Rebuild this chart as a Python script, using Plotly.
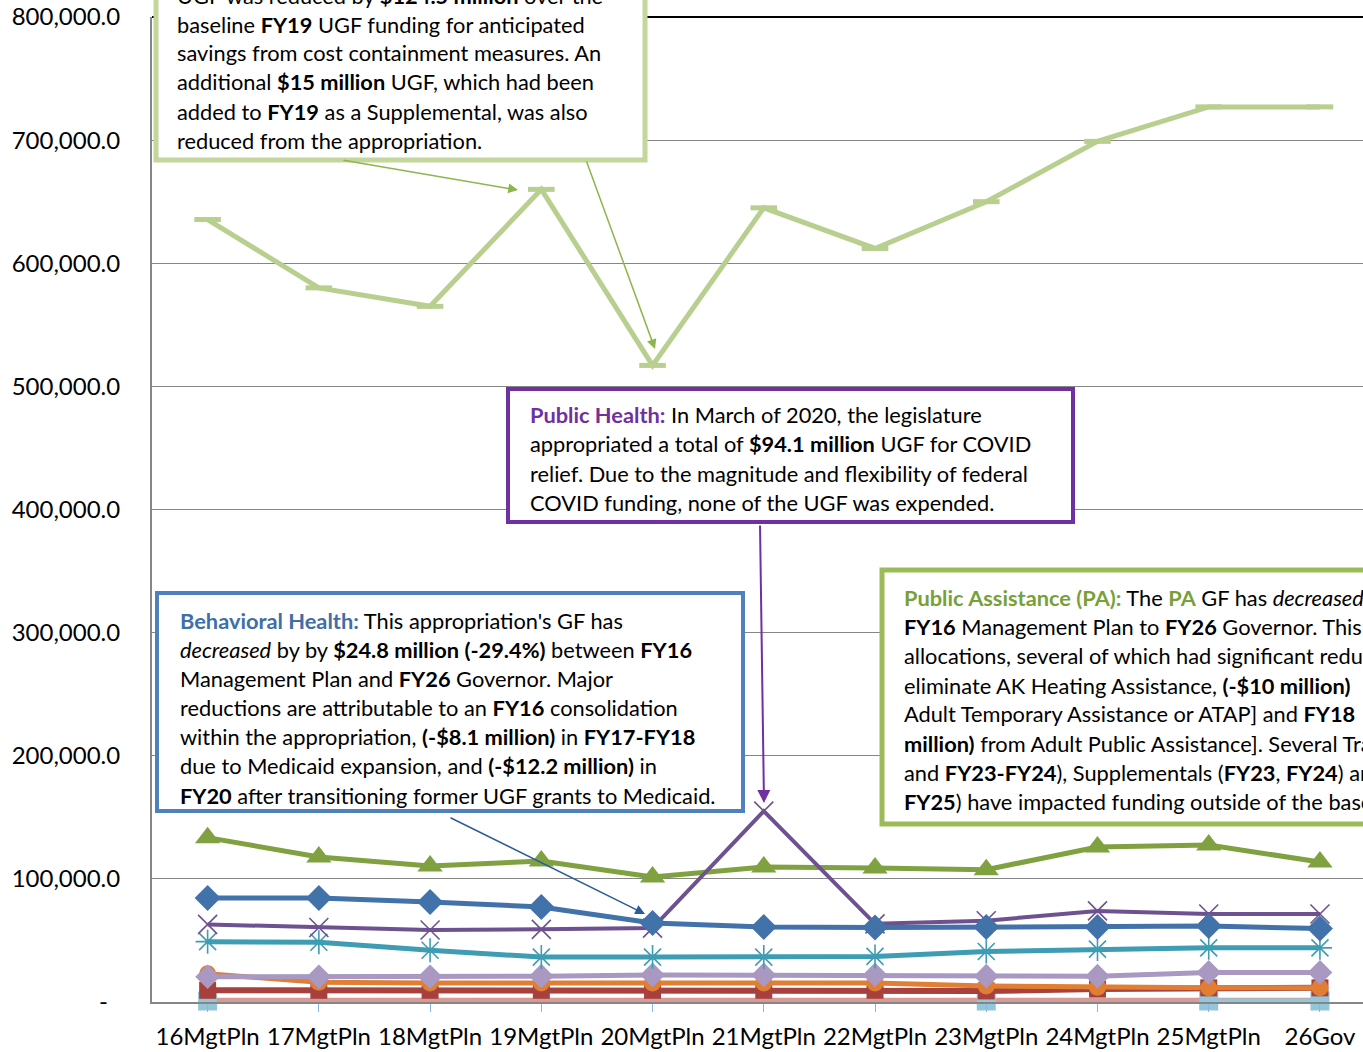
import plotly.graph_objects as go

# ---- data (UGF, thousands of dollars) ----
categories = ["16MgtPln", "17MgtPln", "18MgtPln", "19MgtPln", "20MgtPln", "21MgtPln",
              "22MgtPln", "23MgtPln", "24MgtPln", "25MgtPln", "26Gov"]

medicaid_services = [635500, 580000, 565000, 660000, 517000, 645000, 612000, 650000, 699000, 727000, 727000]
public_assistance = [133500, 117800, 110500, 114500, 101500, 109600, 108800, 107500, 125900, 127500, 113700]
behavioral_health = [84400, 84500, 81200, 77200, 64200, 61000, 60500, 61000, 61000, 61700, 59600]
public_health = [63000, 60500, 58500, 59000, 60000, 155000, 63500, 66000, 74000, 71500, 71500]
childrens_services = [49000, 48500, 42000, 36500, 36500, 36500, 37000, 41000, 43000, 44000, 44000]
senior_disabilities = [20500, 20500, 20500, 21000, 22000, 22000, 22000, 21000, 21000, 24000, 24000]
departmental_support = [23000, 16000, 15500, 15500, 15500, 15500, 15500, 13000, 12000, 11500, 11500]
health_care_services = [9500, 9500, 9500, 9500, 9500, 9500, 9500, 9000, 10500, 11500, 11500]
senior_benefits = [1500, 1500, 1500, 1500, 1500, 1500, 1500, 1500, 1500, 1500, 1500]
matching_grants = [800, None, None, None, None, None, None, 800, None, 800, 800]

y_tickvals = [0, 100000, 200000, 300000, 400000, 500000, 600000, 700000, 800000]
y_ticktext = ["-\u00a0\u00a0", "100,000.0", "200,000.0", "300,000.0", "400,000.0",
              "500,000.0", "600,000.0", "700,000.0", "800,000.0"]

# ---- canvas geometry (pixels) ----
W, H = 1363, 1052
L, T, B = 152, 17, 1002
PW, PH = W - L, B - T


def px(x):
    return (x - L) / PW


def py(y):
    return (B - y) / PH


FONT = "Lato"
NOTE_SIZE = 21.8
fig = go.Figure()


def add_series(values, color, width, symbol=None, size=0, mline=0, mcolor=None, name=""):
    mode = "lines+markers" if symbol else "lines"
    marker = dict(symbol=symbol, size=size, color=mcolor or color,
                  line=dict(width=mline, color=color)) if symbol else None
    fig.add_trace(go.Scatter(x=categories, y=values, mode=mode, name=name,
                             line=dict(color=color, width=width),
                             marker=marker, connectgaps=False, cliponaxis=False,
                             hoverinfo="skip"))


add_series(senior_benefits, "#D69A97", 5, name="Senior Benefits Payment Program")
add_series(matching_grants, "#93C6D9", 5, "square", 19, name="Community Initiative Matching Grants")
add_series(health_care_services, "#A8403D", 6, "square", 17, name="Health Care Services")
add_series(departmental_support, "#E07F33", 5, "circle", 17, name="Departmental Support Services")
add_series(senior_disabilities, "#A898C2", 5, "diamond", 19, name="Senior and Disabilities Services")
add_series(childrens_services, "#3E9CB3", 5, "asterisk-open", 20, 1.6, name="Children's Services")
add_series(public_assistance, "#7FA140", 5, "triangle-up", 22, name="Public Assistance")
add_series(public_health, "#6E5190", 4, "x-thin-open", 19, 1.6, name="Public Health")
add_series(behavioral_health, "#4272AA", 5, "diamond", 20, name="Behavioral Health")
add_series(medicaid_services, "#B8CF8F", 5, "line-ew-open", 19, 5, name="Medicaid Services")

shapes = []
annotations = []

# top border of the plot area
shapes.append(dict(type="line", xref="paper", yref="paper", x0=0, x1=1, y0=1, y1=1,
                   line=dict(color="#000000", width=2), layer="above"))


def text_box(x0, y0, x1, y1, border, color, text_x, lines, line_y):
    shapes.append(dict(type="rect", xref="paper", yref="paper",
                       x0=px(x0), x1=px(x1), y0=py(y1), y1=py(y0),
                       fillcolor="white", line=dict(color=color, width=border), layer="above"))
    for t, yy in zip(lines, line_y):
        annotations.append(dict(text=t, xref="paper", yref="paper", x=px(text_x), y=py(yy),
                                xanchor="left", yanchor="middle", showarrow=False, align="left",
                                font=dict(family=FONT, size=NOTE_SIZE, color="#000000")))


def arrow(tail, head, color, width):
    annotations.append(dict(text="", xref="paper", yref="paper", x=px(head[0]), y=py(head[1]),
                            ax=tail[0] - head[0], ay=tail[1] - head[1], showarrow=True,
                            arrowhead=2, arrowsize=1.3, arrowwidth=width, arrowcolor=color,
                            standoff=0, startstandoff=0))


# Medicaid note
text_box(156, -60, 645, 160, 5, "#C3D69B", 175,
         ["UGF was reduced by <b>$124.5 million</b> over the",
          "baseline <b>FY19</b> UGF funding for anticipated",
          "savings from cost containment measures. An",
          "additional <b>$15 million</b> UGF, which had been",
          "added to <b>FY19</b> as a Supplemental, was also",
          "reduced from the appropriation."],
         [-5, 24, 53, 82, 111, 140])

# Public Health note
text_box(508, 389, 1073, 522, 4, "#7030A0", 528,
         ["<b><span style='color:#7030A0'>Public Health:</span></b> In March of 2020, the legislature",
          "appropriated a total of <b>$94.1 million</b> UGF for COVID",
          "relief. Due to the magnitude and flexibility of federal",
          "COVID funding, none of the UGF was expended."],
         [414, 443, 473, 502])

# Behavioral Health note
text_box(157, 593, 743, 811, 4, "#4F81BD", 178,
         ["<b><span style='color:#3F6EA8'>Behavioral Health:</span></b> This appropriation's GF has",
          "<i>decreased</i> by by <b>$24.8 million (-29.4%)</b> between <b>FY16</b>",
          "Management Plan and <b>FY26</b> Governor. Major",
          "reductions are attributable to an <b>FY16</b> consolidation",
          "within the appropriation, <b>(-$8.1 million)</b> in <b>FY17-FY18</b>",
          "due to Medicaid expansion, and <b>(-$12.2 million)</b> in",
          "<b>FY20</b> after transitioning former UGF grants to Medicaid."],
         [620, 649, 678, 707, 736, 765, 795])

# Public Assistance note
text_box(882, 570, 1520, 824, 5, "#9BBB59", 902,
         ["<b><span style='color:#77A136'>Public Assistance (PA):</span></b> The "
          "<b><span style='color:#77A136'>PA</span></b> GF has <i>decreased</i>",
          "<b>FY16</b> Management Plan to <b>FY26</b> Governor. This",
          "allocations, several of which had significant reductions",
          "eliminate AK Heating Assistance, <b>(-$10 million)</b>",
          "Adult Temporary Assistance or ATAP] and <b>FY18</b>",
          "<b>million)</b> from Adult Public Assistance]. Several Transfers",
          "and <b>FY23-FY24</b>), Supplementals (<b>FY23</b>, <b>FY24</b>) and",
          "<b>FY25</b>) have impacted funding outside of the base"],
         [597, 626, 655, 685, 714, 743, 772, 801])

# callout arrows
arrow((342, 160), (518, 190), "#8DB54B", 1.5)
arrow((586, 160), (655, 349), "#8DB54B", 1.5)
arrow((760, 524), (764, 803), "#7030A0", 2)
arrow((449, 817), (645, 914), "#2C5A9A", 1.5)

fig.update_layout(
    width=W, height=H,
    margin=dict(l=L, r=0, t=T, b=H - B, pad=0),
    paper_bgcolor="white", plot_bgcolor="white",
    showlegend=False,
    font=dict(family=FONT, color="#000000"),
    shapes=shapes, annotations=annotations,
    xaxis=dict(type="category", range=[-0.5, 10.387], showgrid=False,
               showline=True, linecolor="#868686", linewidth=2,
               ticks="outside", ticklen=8, tickwidth=1, tickcolor="#8EB4E3",
               tickfont=dict(family=FONT, size=24, color="#000000"),
               ticklabelstandoff=4),
    yaxis=dict(range=[0, 800000], tickvals=y_tickvals, ticktext=y_ticktext,
               showgrid=True, gridcolor="#868686", gridwidth=1, zeroline=False,
               showline=True, linecolor="#868686", linewidth=2, ticks="",
               tickfont=dict(family=FONT, size=24, color="#000000"),
               ticklabelstandoff=25),
)

fig.write_html("out.html")
